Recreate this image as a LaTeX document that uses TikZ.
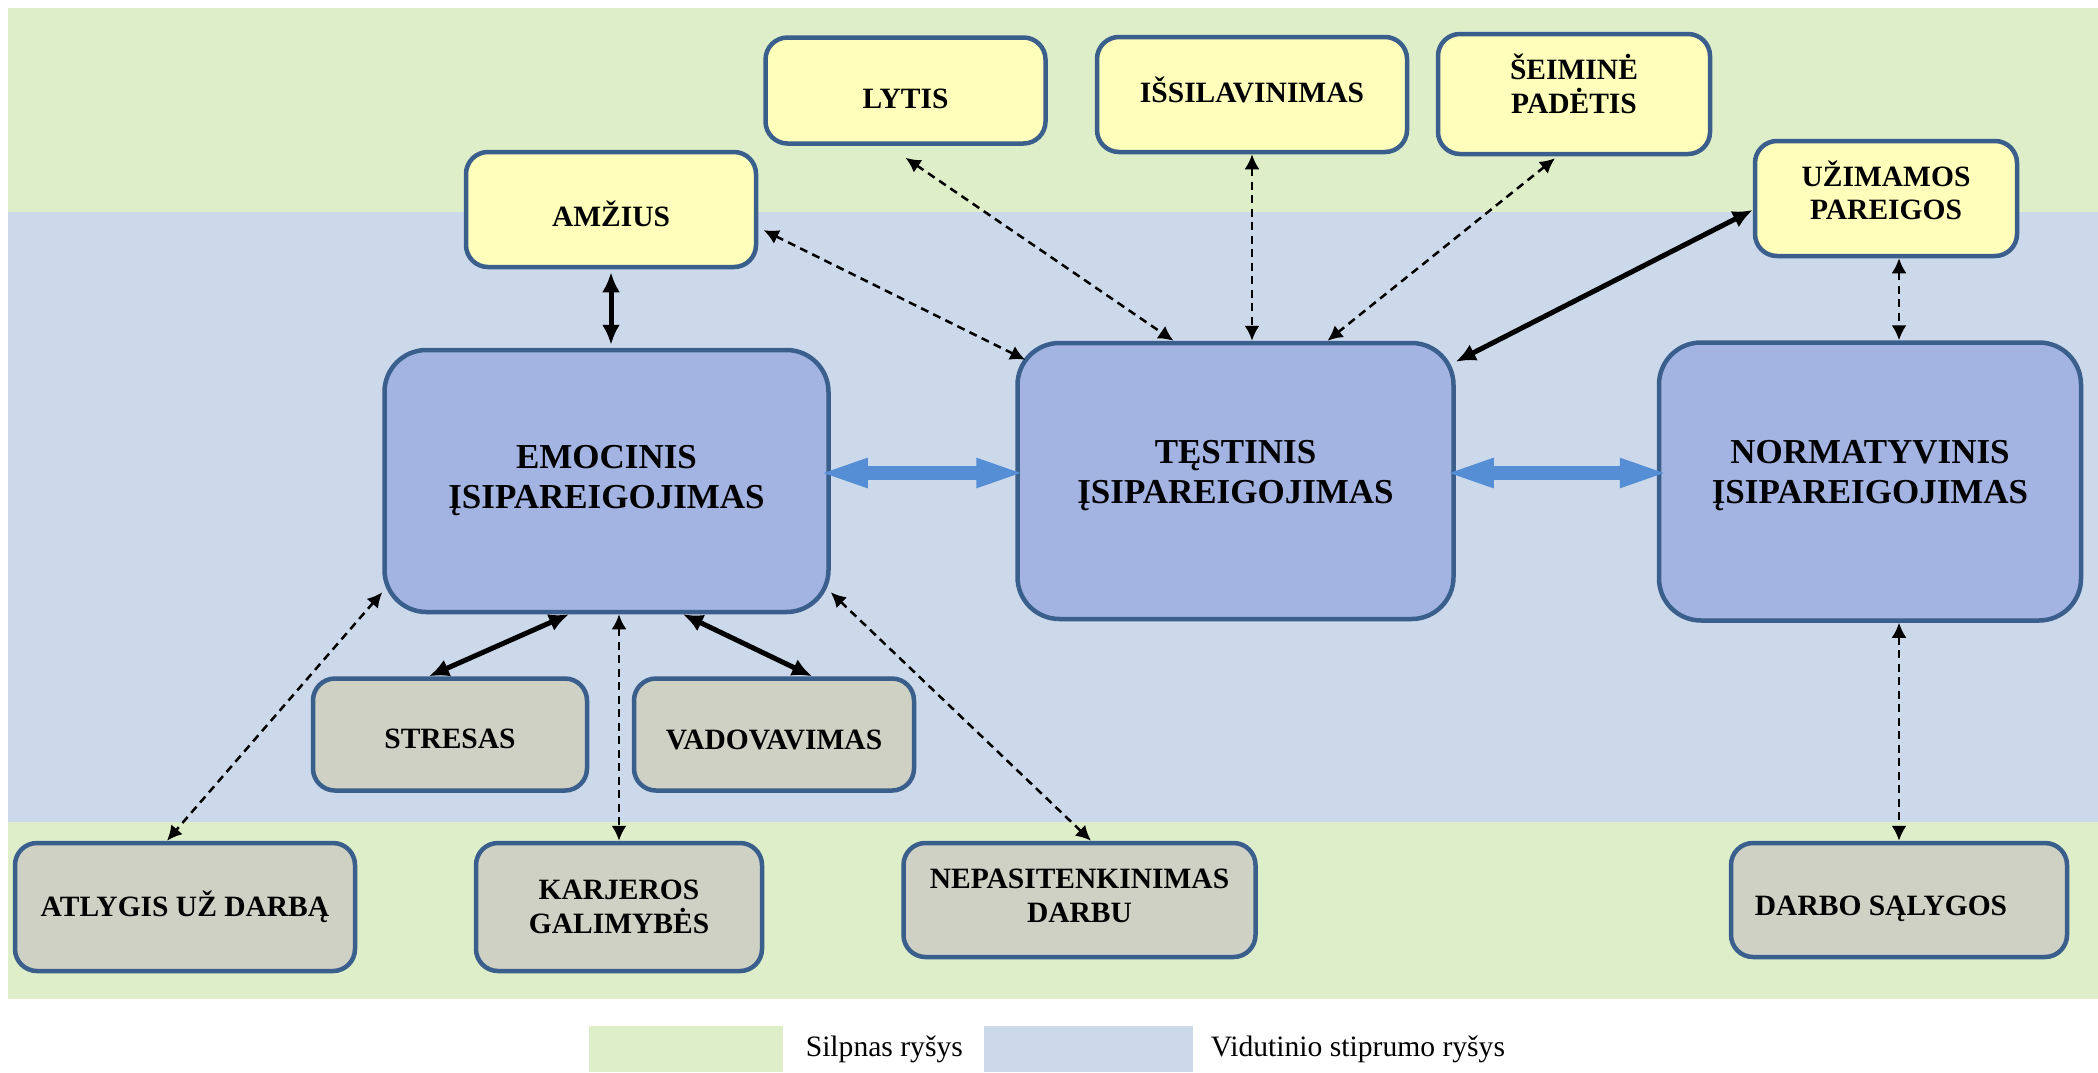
\documentclass[tikz,border=0pt]{standalone}
\usepackage{fontspec}
\setmainfont{Liberation Serif}
\usepackage{xcolor}
\usepackage{tikz}
\usetikzlibrary{arrows.meta, positioning}

\definecolor{weakgreen}{RGB}{221,238,201}
\definecolor{midblue}{RGB}{204,217,234}
\definecolor{factoryellow}{RGB}{255,255,187}
\definecolor{commitfill}{RGB}{163,180,226}
\definecolor{outerfill}{RGB}{207,209,196}
\definecolor{frameblue}{RGB}{58,95,140}
\definecolor{linkblue}{RGB}{85,142,213}

% moves the ink of a label up or down, keeping its size
\newcommand{\txtshift}[2]{\raisebox{#1}[\height][\depth]{#2}}

\begin{document}
\begin{tikzpicture}[
			x=0.5pt, y=-0.5pt,
			node distance=1cm,
			every node/.style={font=\bfseries\fontsize{14.75}{16.75}\selectfont},
			box/.style={
				rectangle, draw=frameblue, line width=2.25pt, rounded corners=11pt,
				align=center, inner sep=2pt
			},
			factorbox/.style={box, fill=factoryellow},
			outerbox/.style={box, fill=outerfill},
			commitbox/.style={
				box, fill=commitfill, rounded corners=21pt,
				font=\bfseries\fontsize{17.5}{20}\selectfont
			},
			dasharrow/.style={
				{Latex[length=7.5pt,width=7.5pt]}-{Latex[length=7.5pt,width=7.5pt]},
				line width=1.25pt, dash pattern=on 4pt off 2.75pt
			},
			solidarrow/.style={
				{Latex[length=10pt,width=9pt]}-{Latex[length=10pt,width=9pt]},
				line width=2.5pt
			},
			bluearrow/.style={
				{Triangle[length=25pt,width=13pt]}-{Triangle[length=25pt,width=13pt]},
				line width=7pt, draw=linkblue
			},
			legbox/.style={rectangle, draw=none, inner sep=0pt, minimum height=23pt},
			legtext/.style={font=\mdseries\fontsize{14.8}{17}\selectfont, inner sep=0pt}
			]
			
			\useasboundingbox (0,0) rectangle (2098,1072);
			
			% bands
			\fill[weakgreen] (8,8) rectangle (2098,212);
			\fill[midblue] (8,212) rectangle (2098,822);
			\fill[weakgreen] (8,822) rectangle (2098,999);
			
			% factors
			\node[factorbox, minimum width=145pt, minimum height=57.5pt] (amzius) at (611,209.5) {\txtshift{-2pt}{AMŽIUS}};
			\node[factorbox, minimum width=140pt, minimum height=53pt] (lytis) at (905.5,90.5) {\txtshift{-4pt}{LYTIS}};
			\node[factorbox, minimum width=155pt, minimum height=57.5pt] (issilavinimas) at (1252,94.5) {\txtshift{2.5pt}{IŠSILAVINIMAS}};
			\node[factorbox, minimum width=136pt, minimum height=60pt] (seimine) at (1574,94) {\txtshift{5pt}{ŠEIMINĖ}\\\txtshift{5pt}{PADĖTIS}};
			\node[factorbox, minimum width=131pt, minimum height=57.5pt] (pareigos) at (1886,198.5) {\txtshift{4pt}{UŽIMAMOS}\\\txtshift{4pt}{PAREIGOS}};
			
			\node[commitbox, minimum width=222pt, minimum height=131pt] (emocinis) at (606.5,481) {EMOCINIS\\ĮSIPAREIGOJIMAS};
			\node[commitbox, minimum width=218pt, minimum height=138pt] (testinis) at (1235.5,481) {\txtshift{2.5pt}{TĘSTINIS}\\\txtshift{2.5pt}{ĮSIPAREIGOJIMAS}};
			\node[commitbox, minimum width=211pt, minimum height=139pt] (normatyvinis) at (1870,481.5) {\txtshift{3pt}{NORMATYVINIS}\\\txtshift{3pt}{ĮSIPAREIGOJIMAS}};
			
			\node[outerbox, minimum width=137pt, minimum height=56pt] (stresas) at (450,734.5) {\txtshift{-2pt}{STRESAS}};
			\node[outerbox, minimum width=140pt, minimum height=56pt] (vadovavimas) at (774,734.5) {\txtshift{-2.5pt}{VADOVAVIMAS}};
			\node[outerbox, minimum width=170pt, minimum height=64pt] (atlygis) at (185,907) {ATLYGIS UŽ DARBĄ};
			\node[outerbox, minimum width=143pt, minimum height=64pt] (karjeros) at (619,907) {KARJEROS\\GALIMYBĖS};
			\node[outerbox, minimum width=176pt, minimum height=57pt] (nepasitenkinimas) at (1079.5,900) {\txtshift{2pt}{NEPASITENKINIMAS}\\\txtshift{2pt}{DARBU}};
			\node[outerbox, minimum width=168pt, minimum height=57pt] (salygos) at (1899,900) {\txtshift{-4.5pt}{DARBO SĄLYGOS}\hspace*{18pt}};
			
			% links
			\draw[solidarrow, shorten <=1.5pt, shorten >=1.5pt] (amzius.south) -- (amzius.south |- emocinis.north);
			\draw[dasharrow, shorten <=3pt] ([yshift=-9pt]amzius.east) -- ([shift={(5pt,-9.5pt)}]testinis.north west);
			\draw[dasharrow] ([yshift=-6pt]lytis.south) -- ([xshift=-31pt]testinis.north);
			\draw[dasharrow] (issilavinimas.south) -- (issilavinimas.south |- testinis.north);
			\draw[dasharrow] ([shift={(-9.5pt,-1pt)}]seimine.south) -- ([xshift=46pt]testinis.north);
			\draw[solidarrow] ([yshift=-5.75pt]pareigos.west) -- ([yshift=-10.5pt]testinis.north east);
			\draw[dasharrow] (salygos.north |- pareigos.south) -- (salygos.north |- normatyvinis.north);
			
			\draw[bluearrow, shorten <=-6.5pt, shorten >=-5.5pt] ([yshift=4pt]emocinis.east) -- ([yshift=4pt]testinis.west);
			\draw[bluearrow, shorten <=-6pt, shorten >=-6.5pt] ([yshift=4pt]testinis.east) -- ([yshift=4pt]testinis.east -| normatyvinis.west);
			
			\draw[solidarrow] ([xshift=-18.75pt]emocinis.south) -- ([xshift=-10.5pt]stresas.north);
			\draw[solidarrow] ([xshift=38.25pt]emocinis.south) -- ([xshift=19pt]vadovavimas.north);
			\draw[dasharrow] (karjeros.north |- emocinis.south) -- (karjeros.north);
			\draw[dasharrow] ([yshift=11pt]emocinis.south west) -- ([xshift=-9pt]atlygis.north);
			\draw[dasharrow] ([yshift=11pt]emocinis.south east) -- ([xshift=5.75pt]nepasitenkinimas.north);
			\draw[dasharrow] (salygos.north |- normatyvinis.south) -- (salygos.north);
			
			% legend
			\node[legbox, fill=weakgreen, minimum width=97pt] (legsilpnas) at (686,1049) {};
			\node[legtext, right=11pt of legsilpnas] (legsilpnastxt) {Silpnas ryšys};
			\node[legbox, fill=midblue, minimum width=104.5pt] (legvidutinis) at (1088.5,1049) {};
			\node[legtext, right=8.5pt of legvidutinis] (legvidutinistxt) {Vidutinio stiprumo ryšys};
			
		\end{tikzpicture}
\end{document}
